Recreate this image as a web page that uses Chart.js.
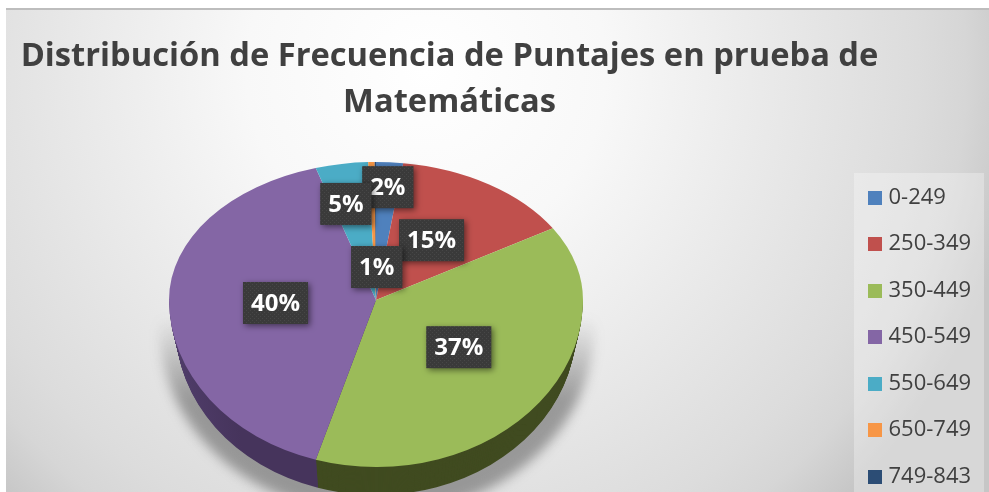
<!DOCTYPE html>
<html>
<head>
<meta charset="utf-8">
<title>Distribución de Frecuencia de Puntajes</title>
<script src="https://cdn.jsdelivr.net/npm/chart.js@4/dist/chart.umd.js"></script>
<style>
html, body { margin: 0; padding: 0; background: #fff; }
#marco {
    position: absolute; left: 6px; top: 8px; width: 983px; height: 484px;
    border-top: 2px solid #bdbdbd; box-sizing: border-box;
    background: radial-gradient(ellipse 600px 600px at 420px 60px, #ffffff 0%, #f8f8f8 30%, #ebebeb 54%, #dcdcdc 82%, #d6d6d6 90%, #c6c6c6 100%);
}
canvas { position: absolute; left: 0; top: 0; }
</style>
</head>
<body>
<div id="marco"></div>
<canvas id="grafico" width="989" height="492"></canvas>
<script>
const rangos = ['0-249', '250-349', '350-449', '450-549', '550-649', '650-749', '749-843'];
const porcentajes = [2.1, 14.2, 38.4, 40.6, 4.1, 0.5, 0.1];
const etiquetasPct = ['2%', '15%', '37%', '40%', '5%', '1%'];
const colores = ['#4f81bd', '#c0504d', '#9bbb59', '#8466a5', '#4bacc6', '#f79646', '#2c4d75'];
const coloresLado = ['#2f4d71', '#73302e', '#404b20', '#46345c', '#2d6777', '#94592a', '#1a2e46'];
const titulo = ['Distribución de Frecuencia de Puntajes en prueba de', 'Matemáticas'];

// the labels were dragged by hand in the original, so offsets from each slice centre
const desplazamientos = [[5, -44], [-1, -2], [1, -4], [3, 3], [-13, -28], [3, 36]];

// tilted pie: flattened more above the centre than below it, like the perspective of the original
const pie = { x: 376, y: 300, rx: 207, arriba: 138, abajo: 167, grosor: 28, encoge: 0.25 };

function dibujarMitad(ctx, arc, sup, dy){
    const r = arc.outerRadius;
    const ry = sup ? pie.arriba : pie.abajo;
    ctx.save();
    ctx.beginPath();
    ctx.rect(0, sup ? 0 : pie.y + dy, 989, sup ? pie.y + dy : 492);
    ctx.clip();
    ctx.translate(pie.x, pie.y + dy);
    ctx.scale((pie.rx - dy * pie.encoge) / r, ry / r);
    ctx.translate(-arc.x, -arc.y);
    arc.draw(ctx);
    ctx.restore();
}

function sombra(ctx){
    const g = ctx.createLinearGradient(0, 318, 0, 400);
    g.addColorStop(0, 'rgba(90,90,90,0)');
    g.addColorStop(1, 'rgba(90,90,90,0.55)');
    ctx.save();
    ctx.filter = 'blur(6px)';
    ctx.fillStyle = g;
    ctx.beginPath();
    ctx.ellipse(pie.x + 1, 330, 217, 185, 0, 0, Math.PI * 2);
    ctx.fill();
    ctx.restore();
}

function dibujarLado(ctx, arcos){
    const degradado = ctx.createLinearGradient(170, 0, 316, 0);
    degradado.addColorStop(0, '#5f4b80');
    degradado.addColorStop(1, coloresLado[3]);
    for(let dy = pie.grosor; dy >= 1; dy--){
        arcos.forEach((arc, i) => {
            const original = arc.options;
            const color = i === 3 ? degradado : coloresLado[i];
            arc.options = Object.assign({}, original, { backgroundColor: color, borderColor: color });
            dibujarMitad(ctx, arc, false, dy);
            arc.options = original;
        });
    }
}

function trama(ctx){
    const c = document.createElement('canvas');
    c.width = 4; c.height = 4;
    const p = c.getContext('2d');
    p.fillStyle = '#3a3a3a';
    p.fillRect(0, 0, 4, 4);
    p.fillStyle = '#474747';
    p.fillRect(0, 0, 1, 1);
    p.fillRect(2, 2, 1, 1);
    return ctx.createPattern(c, 'repeat');
}

function etiquetas(ctx, arcos){
    const relleno = trama(ctx);
    ctx.save();
    ctx.font = 'bold 24px "Open Sans"';
    ctx.textAlign = 'center';
    ctx.textBaseline = 'middle';
    etiquetasPct.forEach((texto, i) => {
        const arc = arcos[i];
        const c = arc.getCenterPoint();
        const ry = c.y < arc.y ? pie.arriba : pie.abajo;
        const x = pie.x + (c.x - arc.x) * pie.rx / arc.outerRadius + desplazamientos[i][0];
        const y = pie.y + (c.y - arc.y) * ry / arc.outerRadius + desplazamientos[i][1];
        const w = ctx.measureText(texto).width + 16;
        ctx.shadowColor = 'rgba(0,0,0,0.5)';
        ctx.shadowBlur = 6;
        ctx.shadowOffsetX = 2;
        ctx.shadowOffsetY = 2;
        ctx.fillStyle = relleno;
        ctx.fillRect(x - w / 2, y - 21, w, 42);
        ctx.shadowColor = 'transparent';
        ctx.fillStyle = '#ffffff';
        ctx.fillText(texto, x, y + 1);
    });
    ctx.restore();
}

function cuadrito(color){
    const c = document.createElement('canvas');
    c.width = 14; c.height = 14;
    const p = c.getContext('2d');
    p.fillStyle = color;
    p.fillRect(0, 0, 14, 14);
    return c;
}

const pie3d = {
    id: 'pie3d',
    beforeDraw(chart){
        chart.titleBlock.left = 6;
        chart.titleBlock.right = 893;
        chart.legend.left = 847;
        chart.legend.top = 162;
        chart.legend.bottom = 600;
        const ctx = chart.ctx;
        ctx.save();
        ctx.fillStyle = 'rgba(255,255,255,0.3)';
        ctx.fillRect(854, 173, 130, 319);
        ctx.restore();
    },
    beforeDatasetsDraw(chart){
        const ctx = chart.ctx;
        const arcos = chart.getDatasetMeta(0).data;
        sombra(ctx);
        dibujarLado(ctx, arcos);
        arcos.forEach(arc => {
            dibujarMitad(ctx, arc, true, 0);
            dibujarMitad(ctx, arc, false, 0);
        });
        etiquetas(ctx, arcos);
        return false;
    }
};

new Chart(document.getElementById('grafico'), {
    type: 'pie',
    data: {
        labels: rangos,
        datasets: [{
            data: porcentajes,
            backgroundColor: colores,
            borderWidth: 0
        }]
    },
    options: {
        responsive: false,
        animation: false,
        events: [],
        plugins: {
            title: {
                display: true,
                text: titulo,
                color: '#404040',
                font: { family: '"Open Sans"', size: 32.7, weight: 'bold', lineHeight: 1.407 },
                padding: { top: 34, bottom: 30 }
            },
            legend: {
                position: 'right',
                align: 'start',
                labels: {
                    color: '#404040',
                    font: { family: '"Open Sans"', size: 22 },
                    boxWidth: 14,
                    boxHeight: 14,
                    usePointStyle: true,
                    pointStyleWidth: 6,
                    padding: 24.5,
                    generateLabels: () => rangos.map((texto, i) => ({
                        text: texto,
                        fontColor: '#404040',
                        fillStyle: colores[i],
                        strokeStyle: colores[i],
                        lineWidth: 0,
                        pointStyle: cuadrito(colores[i]),
                        index: i
                    }))
                }
            },
            tooltip: { enabled: false }
        }
    },
    plugins: [pie3d]
});
</script>
</body>
</html>
